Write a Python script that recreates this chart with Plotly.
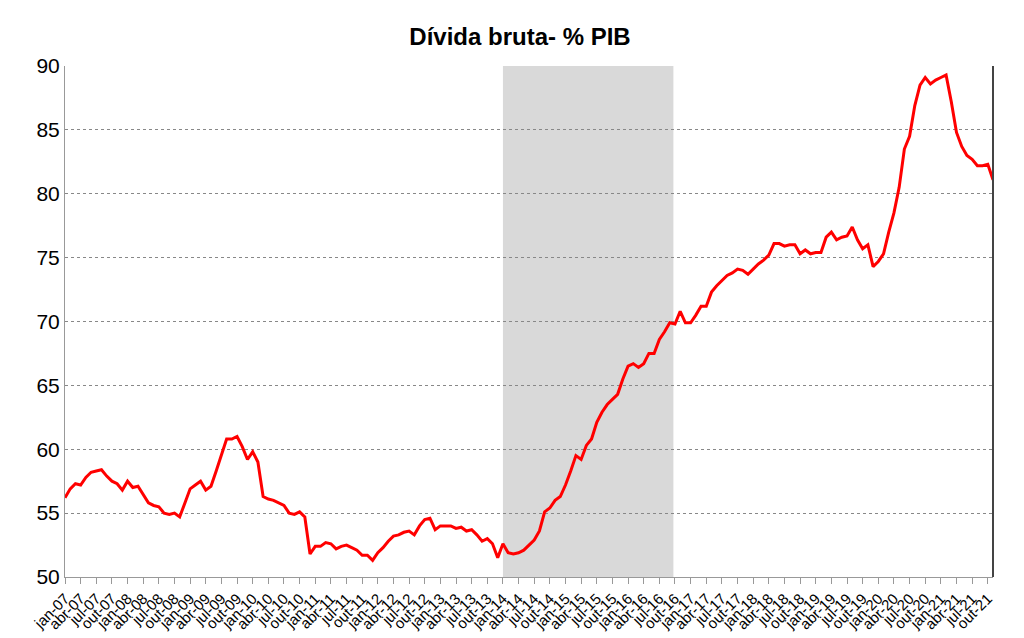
import plotly.graph_objects as go

months = ["jan","fev","mar","abr","mai","jun","jul","ago","set","out","nov","dez"]
values = [
56.2,56.9,57.3,57.2,57.8,58.2,58.3,58.4,57.9,57.5,57.3,56.8,
57.5,57.0,57.1,56.5,55.8,55.6,55.5,55.0,54.9,55.0,54.7,55.8,
56.9,57.2,57.5,56.8,57.1,58.3,59.5,60.8,60.8,61.0,60.2,59.2,
59.8,59.0,56.3,56.1,56.0,55.8,55.6,55.0,54.9,55.1,54.7,51.8,
52.4,52.4,52.7,52.6,52.2,52.4,52.5,52.3,52.1,51.7,51.7,51.3,
51.9,52.3,52.8,53.2,53.3,53.5,53.6,53.3,54.0,54.5,54.6,53.7,
54.0,54.0,54.0,53.8,53.9,53.6,53.7,53.3,52.8,53.0,52.6,51.5,
52.6,51.9,51.8,51.9,52.1,52.5,52.9,53.6,55.1,55.4,56.0,56.3,
57.2,58.3,59.5,59.2,60.3,60.8,62.1,62.9,63.5,63.9,64.3,65.5,
66.5,66.7,66.4,66.7,67.5,67.5,68.6,69.2,69.9,69.8,70.8,69.9,
69.9,70.5,71.2,71.2,72.3,72.8,73.2,73.6,73.8,74.1,74.0,73.7,
74.1,74.5,74.8,75.2,76.1,76.1,75.9,76.0,76.0,75.3,75.6,75.3,
75.4,75.4,76.6,77.0,76.4,76.6,76.7,77.4,76.4,75.7,76.0,74.3,
74.7,75.3,77.0,78.5,80.5,83.5,84.5,86.9,88.5,89.1,88.6,88.9,
89.1,89.3,87.2,84.8,83.7,83.0,82.7,82.2,82.2,82.3,81.1]
labels = [f"{months[i%12]}-{7+i//12:02d}" for i in range(len(values))]
idx = list(range(len(values)))
tick_idx = idx[::3]
tick_text = [labels[i] for i in tick_idx]
shade_start, shade_end = 84, 116.7

fig = go.Figure(go.Scatter(x=idx, y=values, mode="lines",
                           line=dict(color="#ff0000", width=3)))
fig.add_vrect(x0=shade_start, x1=shade_end, fillcolor="#d9d9d9", opacity=1,
              line_width=0, layer="below")
fig.update_layout(
    width=1024, height=638, plot_bgcolor="white", paper_bgcolor="white",
    margin=dict(l=57, r=39, t=58, b=69, autoexpand=False), showlegend=False,
    title=dict(text="<b>Dívida bruta- % PIB</b>", x=0.5, y=0.955, xanchor="center",
               yanchor="middle",
               font=dict(family="Liberation Sans, Arial", size=24, color="black")),
    font=dict(family="Liberation Sans, Arial", color="black"),
)
fig.update_xaxes(range=[0, len(values)-1], tickvals=tick_idx, ticktext=tick_text,
                 tickangle=-45, tickfont=dict(size=15), ticks="outside", ticklen=6,
                 tickcolor="#999", showgrid=False, showline=True, linecolor="#999",
                 mirror=False, zeroline=False, automargin=False)
fig.update_yaxes(range=[50, 90], dtick=5, tickfont=dict(size=21), showgrid=True,
                 gridcolor="#888", griddash="3px,3px", gridwidth=1, showline=True,
                 linecolor="#999", ticks="", zeroline=False, automargin=False)
fig.add_shape(type="line", xref="paper", yref="paper", x0=1, x1=1, y0=0, y1=1,
              line=dict(color="#444", width=2))
fig.write_html("out.html")
